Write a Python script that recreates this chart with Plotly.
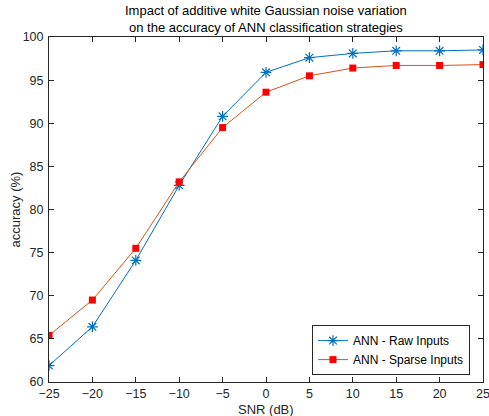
import plotly.graph_objects as go

snr = [-25, -20, -15, -10, -5, 0, 5, 10, 15, 20, 25]
raw_acc = [61.9, 66.4, 74.1, 82.8, 90.8, 95.9, 97.6, 98.1, 98.4, 98.4, 98.5]
sparse_acc = [65.4, 69.5, 75.5, 83.2, 89.5, 93.6, 95.5, 96.4, 96.7, 96.7, 96.8]
x_ticks = [-25, -20, -15, -10, -5, 0, 5, 10, 15, 20, 25]
y_ticks = [60, 65, 70, 75, 80, 85, 90, 95, 100]
title_lines = ["Impact of additive white Gaussian noise variation",
               "on the accuracy of ANN classification strategies"]
x_label = "SNR (dB)"
y_label = "accuracy (%)"

FONT = "Liberation Sans, Arial, Helvetica, sans-serif"

fig = go.Figure()
fig.add_trace(go.Scatter(
    x=snr, y=raw_acc, mode="lines+markers", name="ANN - Raw Inputs",
    line=dict(color="#0072BD", width=1),
    marker=dict(symbol="asterisk-open", size=9, color="#0072BD",
                line=dict(color="#0072BD", width=1.2)),
))
fig.add_trace(go.Scatter(
    x=snr, y=sparse_acc, mode="lines+markers", name="ANN - Sparse Inputs",
    line=dict(color="#D95319", width=1),
    marker=dict(symbol="square", size=7, color="#FF0000",
                line=dict(color="#FF0000", width=0)),
))

axis_common = dict(
    showgrid=False, zeroline=False, showline=True, linecolor="#262626",
    linewidth=1, mirror="ticks", ticks="inside", ticklen=5, automargin=False,
    ticklabeloverflow="allow",
    tickcolor="#262626", tickfont=dict(family=FONT, size=12.5, color="#262626"),
)

fig.add_annotation(
    text="<br>".join(title_lines), xref="paper", yref="paper",
    x=0.5, y=1, xanchor="center", yanchor="bottom", showarrow=False,
    font=dict(family=FONT, size=13, color="black"),
)
fig.add_annotation(
    text=x_label, xref="paper", yref="paper", x=0.5, y=0,
    xanchor="center", yanchor="middle", yshift=-27, showarrow=False,
    font=dict(family=FONT, size=13, color="#262626"),
)
fig.add_annotation(
    text=y_label, xref="paper", yref="paper", x=0, y=0.5,
    xanchor="center", yanchor="middle", xshift=-34, textangle=-90,
    showarrow=False, font=dict(family=FONT, size=13, color="#262626"),
)

fig.update_layout(
    width=489, height=416,
    margin=dict(l=49, r=6, t=37, b=34),
    paper_bgcolor="white", plot_bgcolor="white",
    font=dict(family=FONT, size=12, color="#262626"),
    xaxis=dict(range=[-25, 25], tickvals=x_ticks, ticklabelstandoff=0,
               **axis_common),
    yaxis=dict(range=[60, 100], tickvals=y_ticks, ticklabelstandoff=2,
               **axis_common),
    legend=dict(
        x=0.97, y=0.02, xanchor="right", yanchor="bottom",
        bgcolor="white", bordercolor="#262626", borderwidth=1,
        font=dict(family=FONT, size=12, color="black"),
        tracegroupgap=0, itemwidth=30,
    ),
    showlegend=True,
)

fig.write_html("out.html")
